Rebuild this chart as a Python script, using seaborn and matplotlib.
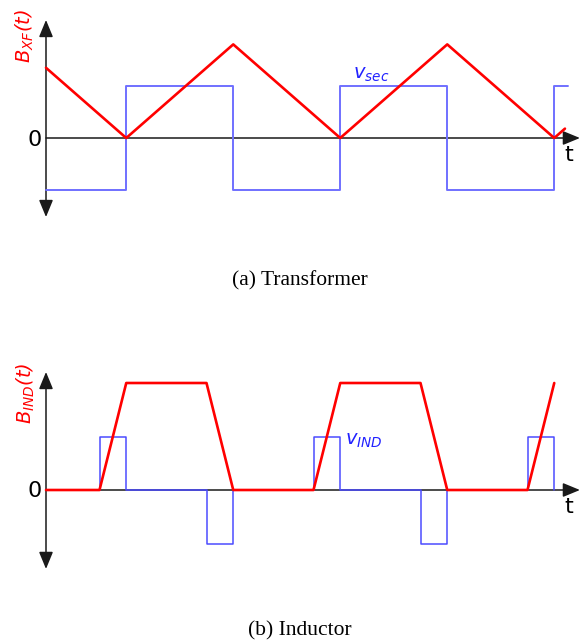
import matplotlib
matplotlib.use("Agg")
import matplotlib.pyplot as plt
import numpy as np
import pandas as pd
import seaborn as sns

# ---- waveform data (time in half-periods of the switching cycle) ----
# (a) transformer: square secondary voltage and triangular core flux
xf_t_v = [0.0, 0.75, 1.75, 2.75, 3.75, 4.75, 4.875]
xf_v = [-0.5, 0.5, -0.5, 0.5, -0.5, 0.5, 0.5]
xf_t_b = [0.0, 0.75, 1.75, 2.75, 3.75, 4.75, 4.85]
xf_b = [0.675, 0.0, 0.9, 0.0, 0.9, 0.0, 0.09]

# (b) inductor: short voltage pulses and trapezoidal core flux
ind_t = [0.0, 0.5, 0.75, 1.5, 1.75, 2.5, 2.75, 3.5, 3.75, 4.5, 4.75]
ind_v = [0.0, 0.5, 0.0, -0.5, 0.0, 0.5, 0.0, -0.5, 0.0, 0.5, 0.0]
ind_b = [0.0, 0.0, 1.0, 1.0, 0.0, 0.0, 1.0, 1.0, 0.0, 0.0, 1.0]

captions = ["(a) Transformer", "(b) Inductor"]

sns.set_theme(style="white")
plt.rcParams["font.family"] = ["DejaVu Sans"]
plt.rcParams["mathtext.fontset"] = "custom"
plt.rcParams["mathtext.it"] = "DejaVu Sans:italic"
plt.rcParams["mathtext.rm"] = "DejaVu Sans:italic"

W, H, DPI = 585, 643, 100
fig = plt.figure(figsize=(W / DPI, H / DPI), dpi=DPI)

RED = "#ff0000"
AXC = "#1a1a1a"

# pixel geometry of each panel: origin column, px per time unit, zero row, px per value unit
X0, XU = 46, 107.0


def make_axes(row_top, row_bot, zero_row, yu):
    ax = fig.add_axes([0, 1 - row_bot / H, 1, (row_bot - row_top) / H])
    ax.set_xlim(-X0 / XU, (W - X0) / XU)
    ax.set_ylim((zero_row - row_bot) / yu, (zero_row - row_top) / yu)
    ax.axis("off")
    return ax


def draw_axes(ax, ytop, ybot, xend):
    ax.annotate("", xy=(0, ytop), xytext=(0, ybot),
                arrowprops=dict(arrowstyle="<|-|>,head_length=0.8,head_width=0.33",
                                color=AXC, lw=1.1, shrinkA=0, shrinkB=0,
                                mutation_scale=13), zorder=1)
    ax.annotate("", xy=(xend, 0), xytext=(0, 0),
                arrowprops=dict(arrowstyle="-|>,head_length=0.8,head_width=0.33",
                                color=AXC, lw=1.1, shrinkA=0, shrinkB=0,
                                mutation_scale=13), zorder=1)


# ---------------- (a) transformer ----------------
ax1 = make_axes(0, 300, 138, 104.0)
draw_axes(ax1, 1.135, -0.76, 4.99)
sns.lineplot(x=xf_t_v, y=xf_v, ax=ax1, color="#7070ff", linewidth=1.4,
             estimator=None, sort=False, drawstyle="steps-post", zorder=2)
sns.lineplot(x=xf_t_b, y=xf_b, ax=ax1, color=RED, linewidth=1.9,
             estimator=None, sort=False, zorder=3)
ax1.text(-0.196, 0.98, r"$B_{XF}(t)$", color=RED, fontsize=14, rotation=90,
         ha="center", va="center")
ax1.text(2.869, 0.52, r"$v_{sec}$", color="#2222ff", fontsize=14,
         ha="left", va="bottom")
ax1.text(-0.103, -0.02, "0", fontsize=16, ha="center", va="center", color="black")
ax1.text(4.89, -0.16, "t", fontsize=16, ha="center", va="center", color="black")

# ---------------- (b) inductor ----------------
ax2 = make_axes(322, 643, 490, 107.0)
draw_axes(ax2, 1.103, -0.738, 4.99)
sns.lineplot(x=ind_t, y=ind_v, ax=ax2, color="#4b4bff", linewidth=1.1,
             estimator=None, sort=False, drawstyle="steps-post", zorder=2)
sns.lineplot(x=ind_t, y=ind_b, ax=ax2, color=RED, linewidth=1.9,
             estimator=None, sort=False, zorder=3)
ax2.text(-0.187, 0.907, r"$B_{IND}(t)$", color=RED, fontsize=14, rotation=90,
         ha="center", va="center")
ax2.text(2.794, 0.37, r"$v_{IND}$", color="#2222ff", fontsize=14,
         ha="left", va="bottom")
ax2.text(-0.103, -0.01, "0", fontsize=16, ha="center", va="center", color="black")
ax2.text(4.89, -0.16, "t", fontsize=16, ha="center", va="center", color="black")

for cap, yc in zip(captions, [281, 631]):
    fig.text(300 / W, 1 - yc / H, cap, ha="center", va="center", fontsize=15.5,
             family=["Liberation Serif"], color="black")

fig.savefig("out.png", dpi=DPI, facecolor="white")
